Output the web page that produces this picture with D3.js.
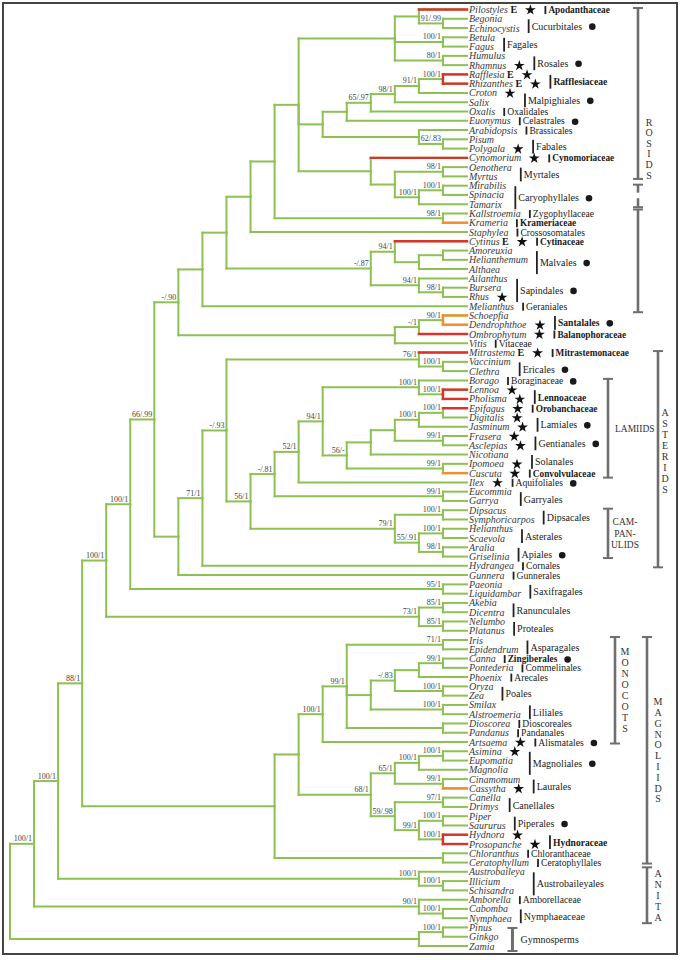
<!DOCTYPE html>
<html><head><meta charset="utf-8">
<script src="https://cdn.jsdelivr.net/npm/d3@7"></script>
<style>
body{margin:0;background:#fff;}
svg{display:block;}
text{font-family:"Liberation Serif","Times New Roman",serif;}
</style></head><body>
<svg id="chart" width="685" height="960"></svg>
<script>
// ---------- DATA ----------
// topology (Newick pieces) with support values (bootstrap / posterior) as node labels
const malpighiales = "(((Rafflesia,Rhizanthes)100/1,Croton)91/1,Salix)98/1";
const rosidTop = "((Pilostyles,(Begonia,Echinocystis)91/.99),(Betula,Fagus)100/1,(Humulus,Rhamnus)80/1)";
const fabids = `(((${malpighiales},Oxalis)65/.97,Euonymus),(Arabidopsis,(Pisum,Polygala)62/.83))`;
const myrtids = "(Cynomorium,((Oenothera,Myrtus)98/1,((Mirabilis,Spinacia)100/1,Tamarix)100/1))";
const malvids = "((Cytinus,((Amoreuxia,Helianthemum),Althaea))94/1,(Ailanthus,(Bursera,Rhus)98/1)94/1)-/.87";
const santalales = "(((Schoepfia,Dendrophthoe)90/1,Ombrophytum)-/1,Vitis)";
const rosids = `((((((${rosidTop},${fabids},${myrtids}),(Kallstroemia,Krameria)98/1),Staphylea),${malvids}),Melianthus),${santalales})-/.90`;
const ericales = "(Mitrastema,(Vaccinium,Clethra)100/1)76/1";
const lamiales = "((Epifagus,Digitalis)100/1,Jasminum)100/1";
const lamiids = `((((Borago,(Lennoa,Pholisma)100/1)100/1,(((${lamiales},(Frasera,Asclepias)99/1),Nicotiana),(Ipomoea,Cuscuta)99/1)56/-)94/1,Ilex)52/1,(Eucommia,Garrya)99/1)-/.81`;
const campanulids = "((Dipsacus,Symphoricarpos)100/1,((Helianthus,Scaevola)100/1,(Aralia,Griselinia)98/1)55/.91)79/1";
const asterids = `(((${ericales},(${lamiids},${campanulids})56/1)-/.93,Hydrangea)71/1,Gunnera)`;
const eudicots = `(((${rosids},${asterids})66/.99,(Paeonia,Liquidambar)95/1)100/1,((Akebia,Dicentra)85/1,(Nelumbo,Platanus)85/1)73/1)100/1`;
const monocots = "(((Iris,Epidendrum)71/1,((((Canna,Pontederia)99/1,Phoenix),(Oryza,Zea)100/1)-/.83,(Smilax,Alstroemeria)100/1),(Dioscorea,Pandanus))99/1,Artsaema)100/1";
const magnoliids = "((((Asimina,Eupomatia)100/1,Magnolia)100/1,(Cinamomum,Cassytha)99/1)65/1,((Canella,Drimys)97/1,((Piper,Saururus)100/1,(Hydnora,Prosopanche)100/1)99/1)59/.98)68/1";
const anita = "(Austrobaileya,(Illicium,Schisandra)100/1)100/1";
const nymph = "(Amborella,(Cabomba,Nymphaea)100/1)90/1";
const gymnosperms = "((Pinus,Ginkgo)100/1,Zamia)";
const treeNewick = `((((${eudicots},((${monocots},${magnoliids}),(Chloranthus,Ceratophyllum)))88/1,${anita})100/1,${nymph})100/1,${gymnosperms})`;

const redTaxa = ["Pilostyles","Rafflesia","Rhizanthes","Cynomorium","Cytinus","Ombrophytum","Mitrastema","Lennoa","Pholisma","Epifagus","Hydnora","Prosopanche"];
const orangeTaxa = ["Krameria","Schoepfia","Dendrophthoe","Cuscuta","Cassytha"];
const eTaxa = ["Pilostyles","Rafflesia","Rhizanthes","Cytinus","Mitrastema"];
const starTaxa = ["Pilostyles","Rhamnus","Rafflesia","Rhizanthes","Croton","Polygala","Cynomorium","Cytinus","Rhus","Dendrophthoe","Ombrophytum","Mitrastema","Lennoa","Pholisma","Epifagus","Digitalis","Jasminum","Frasera","Asclepias","Ipomoea","Cuscuta","Ilex","Artsaema","Asimina","Cassytha","Hydnora","Prosopanche"];
// [label, first taxon, last taxon, bold]
const orders = [
 ["Apodanthaceae","Pilostyles","Pilostyles",true],["Cucurbitales","Begonia","Echinocystis"],["Fagales","Betula","Fagus"],
 ["Rosales","Humulus","Rhamnus"],["Rafflesiaceae","Rafflesia","Rhizanthes",true],["Malpighiales","Croton","Salix"],
 ["Oxalidales","Oxalis","Oxalis"],["Celastrales","Euonymus","Euonymus"],["Brassicales","Arabidopsis","Arabidopsis"],
 ["Fabales","Pisum","Polygala"],["Cynomoriaceae","Cynomorium","Cynomorium",true],["Myrtales","Oenothera","Myrtus"],
 ["Caryophyllales","Mirabilis","Tamarix"],["Zygophyllaceae","Kallstroemia","Kallstroemia"],["Krameriaceae","Krameria","Krameria",true],
 ["Crossosomatales","Staphylea","Staphylea"],["Cytinaceae","Cytinus","Cytinus",true],["Malvales","Amoreuxia","Althaea"],
 ["Sapindales","Ailanthus","Rhus"],["Geraniales","Melianthus","Melianthus"],["Santalales","Schoepfia","Dendrophthoe",true],
 ["Balanophoraceae","Ombrophytum","Ombrophytum",true],["Vitaceae","Vitis","Vitis"],["Mitrastemonaceae","Mitrastema","Mitrastema",true],
 ["Ericales","Vaccinium","Clethra"],["Boraginaceae","Borago","Borago"],["Lennoaceae","Lennoa","Pholisma",true],
 ["Orobanchaceae","Epifagus","Epifagus",true],["Lamiales","Digitalis","Jasminum"],["Gentianales","Frasera","Asclepias"],
 ["Solanales","Nicotiana","Ipomoea"],["Convolvulaceae","Cuscuta","Cuscuta",true],["Aquifoliales","Ilex","Ilex"],
 ["Garryales","Eucommia","Garrya"],["Dipsacales","Dipsacus","Symphoricarpos"],["Asterales","Helianthus","Scaevola"],
 ["Apiales","Aralia","Griselinia"],["Cornales","Hydrangea","Hydrangea"],["Gunnerales","Gunnera","Gunnera"],
 ["Saxifragales","Paeonia","Liquidambar"],["Ranunculales","Akebia","Dicentra"],["Proteales","Nelumbo","Platanus"],
 ["Asparagales","Iris","Epidendrum"],["Zingiberales","Canna","Canna",true],["Commelinales","Pontederia","Pontederia"],
 ["Arecales","Phoenix","Phoenix"],["Poales","Oryza","Zea"],["Liliales","Smilax","Alstroemeria"],
 ["Dioscoreales","Dioscorea","Dioscorea"],["Pandanales","Pandanus","Pandanus"],["Alismatales","Artsaema","Artsaema"],
 ["Magnoliales","Asimina","Magnolia"],["Laurales","Cinamomum","Cassytha"],["Canellales","Canella","Drimys"],
 ["Piperales","Piper","Saururus"],["Hydnoraceae","Hydnora","Prosopanche",true],["Chloranthaceae","Chloranthus","Chloranthus"],
 ["Ceratophyllales","Ceratophyllum","Ceratophyllum"],["Austrobaileyales","Austrobaileya","Schisandra"],
 ["Amborellaceae","Amborella","Amborella"],["Nymphaeaceae","Cabomba","Nymphaea"],["Gymnosperms","Pinus","Zamia"]
];
const dotOrders = ["Cucurbitales","Rosales","Malpighiales","Celastrales","Caryophyllales","Malvales","Sapindales","Santalales","Ericales","Boraginaceae","Lamiales","Gentianales","Aquifoliales","Apiales","Zingiberales","Alismatales","Magnoliales","Piperales"];
// [name, first taxon, last taxon]
const clades = [["ASTERIDS","Mitrastema","Hydrangea"],["LAMIIDS","Borago","Cuscuta"],["CAM-PAN-ULIDS","Dipsacus","Griselinia"],
 ["MONOCOTS","Iris","Artsaema"],["MAGNOLIIDS","Iris","Ceratophyllum"],["ANITA","Austrobaileya","Nymphaea"]];

// ---------- PARSE + LAYOUT ----------
function parseNewick(s){
  let i=0;
  function node(){
    const n={};
    if(s[i]==="("){
      i++; n.children=[node()];
      while(s[i]===","){i++; n.children.push(node());}
      i++;
    }
    let lab="";
    while(i<s.length && !",()".includes(s[i])){lab+=s[i]; i++;}
    if(n.children) n.support=lab; else n.name=lab;
    return n;
  }
  return node();
}
const root = d3.hierarchy(parseNewick(treeNewick));
d3.cluster().size([1,1]).separation(()=>1)(root);
root.eachAfter(n=>{ if(n.children){ n.x=(n.children[0].x+n.children[n.children.length-1].x)/2; } });
const leaves = root.leaves();
const Y = d3.scaleLinear().domain([leaves[0].x, leaves[leaves.length-1].x]).range([9.5, 946]);
const X = d3.scaleLinear().domain([0,1]).range([10, 467]);
const leafIndex = {}; leaves.forEach((l,i)=>leafIndex[l.data.name]=i);
const LY = name => Y(leaves[leafIndex[name]].x);

const GREEN="#8dc153", RED="#d9342b", ORANGE="#f0902c", GRAY="#6e6e6e";
const svg = d3.select("#chart");
svg.append("rect").attr("x",3).attr("y",3).attr("width",674).attr("height",951)
  .attr("fill","none").attr("stroke","#444").attr("stroke-width",2);
const g = svg.append("g");
const colorOf = n => (!n.children && (redTaxa.includes(n.data.name)?RED:orangeTaxa.includes(n.data.name)?ORANGE:null)) || null;

// branches
const gl = g.append("g").attr("fill","none").attr("stroke-linecap","square");
const colored = [];
root.descendants().filter(n=>n.children).forEach(n=>{
  const px=X(n.y), py=Y(n.x);
  const allCol = n.children.every(c=>colorOf(c));
  n.children.forEach(c=>{
    const cx=X(c.y), cy=Y(c.x), col=colorOf(c);
    gl.append("path").attr("d",`M${px},${py}V${cy}`).attr("stroke",GREEN).attr("stroke-width",2);
    gl.append("path").attr("d",`M${px},${cy}H${cx}`).attr("stroke",GREEN).attr("stroke-width",2);
    if(col){
      colored.push({d:`M${px},${cy}H${cx}`,col});
      if(allCol) colored.push({d:`M${px},${py}V${cy}`,col});
    }
  });
});
colored.forEach(c=>gl.append("path").attr("d",c.d).attr("stroke",c.col).attr("stroke-width",2.4));

// support values
root.descendants().filter(n=>n.children && n.data.support).forEach(n=>{
  g.append("text").attr("x",X(n.y)-2).attr("y",Y(n.x)-2.5).attr("text-anchor","end")
   .attr("font-size",8).attr("fill","#444").text(n.data.support);
});

// leaf labels
const info = {};
leaves.forEach(l=>{
  const nm=l.data.name, y=Y(l.x);
  const t=g.append("text").attr("x",469).attr("y",y+3.5).attr("font-size",10).attr("fill","#3a3a3a");
  t.append("tspan").attr("font-style","italic").text(nm);
  if(eTaxa.includes(nm)) t.append("tspan").attr("font-weight","bold").attr("fill","#111").text(" E");
  const bb=t.node().getBBox();
  let right=bb.x+bb.width;
  info[nm]={end:right};
  if(starTaxa.includes(nm)){
    const sx=right+13;
    g.append("path").attr("d",d3.symbol(d3.symbolStar,36)()).attr("transform",`translate(${sx},${y+0.5})`).attr("fill","#111");
    right=sx+6;
  }
  info[nm].right=right;
});

// order / family labels
orders.forEach(([label,a,b,bold])=>{
  const i0=leafIndex[a], i1=leafIndex[b];
  const grp=leaves.slice(i0,i1+1).map(l=>info[l.data.name].right);
  const gym = label==="Gymnosperms";
  const single = a===b;
  const bx=d3.max(grp)+ (gym?14:9);
  const y1 = single ? LY(a)-3.5 : LY(a)+0.5;
  const y2 = single ? LY(b)+4.5 : LY(b)+5;
  g.append("line").attr("x1",bx).attr("x2",bx).attr("y1",y1).attr("y2",y2)
   .attr("stroke",gym?GRAY:"#222").attr("stroke-width",gym?3:1.8);
  if(gym){
    [y1,y2].forEach(yy=>g.append("line").attr("x1",bx-5).attr("x2",bx+5).attr("y1",yy).attr("y2",yy).attr("stroke",GRAY).attr("stroke-width",2));
  }
  const fs = single ? (bold?9.3:9.6) : (bold?9.6:10);
  const t=g.append("text").attr("x",bx+(gym?8:3)).attr("y",single?LY(a)+3.5:(y1+y2)/2+3.5)
   .attr("font-size",fs).attr("font-weight",bold?"bold":"normal").attr("fill","#1a1a1a").text(label);
  if(dotOrders.includes(label)){
    const bb=t.node().getBBox();
    g.append("circle").attr("cx",bb.x+bb.width+10).attr("cy",(y1+y2)/2+0.5).attr("r",3.3).attr("fill","#1a1a1a");
  }
});

// clade brackets
function bracket(x,y1,y2,capTop=true,capBot=true){
  g.append("line").attr("x1",x).attr("x2",x).attr("y1",y1).attr("y2",y2).attr("stroke",GRAY).attr("stroke-width",2.6);
  if(capTop) g.append("line").attr("x1",x-5).attr("x2",x+5).attr("y1",y1).attr("y2",y1).attr("stroke",GRAY).attr("stroke-width",2);
  if(capBot) g.append("line").attr("x1",x-5).attr("x2",x+5).attr("y1",y2).attr("y2",y2).attr("stroke",GRAY).attr("stroke-width",2);
}
function vletters(word,x,yc,step){
  const n=word.length, y0=yc-(n-1)*step/2;
  word.split("").forEach((ch,i)=>g.append("text").attr("x",x).attr("y",y0+i*step+3.5)
    .attr("text-anchor","middle").attr("font-size",10).attr("fill","#333").text(ch));
}
// rosids (broken bracket around Caryophyllales)
const rx=638;
bracket(rx, LY("Pilostyles")-1.5, LY("Myrtus")+2.5);
bracket(rx, LY("Mirabilis")-1, LY("Mirabilis")+7, true, false);
bracket(rx, LY("Tamarix")-6, LY("Tamarix")+3, false, true);
bracket(rx, LY("Kallstroemia")-4, LY("Melianthus")+6);
vletters("ROSIDS", 649, (LY("Arabidopsis")+LY("Oenothera"))/2, 10.6);

const cladeCols = {"ASTERIDS":[658,665,-8],"LAMIIDS":[608],"CAM-PAN-ULIDS":[608],"MONOCOTS":[615,625,0],"MAGNOLIIDS":[647,658,0],"ANITA":[647,658,0]};
clades.forEach(([name,a,b])=>{
  const y1=LY(a)-(name==="MAGNOLIIDS"||name==="MONOCOTS"?3:(name==="ANITA"?4.5:1.5));
  const y2=LY(b)+(name==="MAGNOLIIDS"?1:(name==="ANITA"?5:(name==="LAMIIDS"?4.5:1.5)));
  const col=cladeCols[name];
  bracket(col[0],y1,y2);
  const yc=(y1+y2)/2;
  if(name==="LAMIIDS"){
    g.append("text").attr("x",col[0]+7).attr("y",yc+3.5).attr("font-size",9.5).attr("fill","#333").text("LAMIIDS");
  } else if(name==="CAM-PAN-ULIDS"){
    ["CAM-","PAN-","ULIDS"].forEach((s,i)=>g.append("text").attr("x",col[0]+17).attr("y",yc+(i-1)*11.5+3.5)
      .attr("text-anchor","middle").attr("font-size",9.5).attr("fill","#333").text(s));
  } else {
    vletters(name,col[1],yc+col[2],name==="MAGNOLIIDS"?10.8:11);
  }
});
</script>
</body></html>
